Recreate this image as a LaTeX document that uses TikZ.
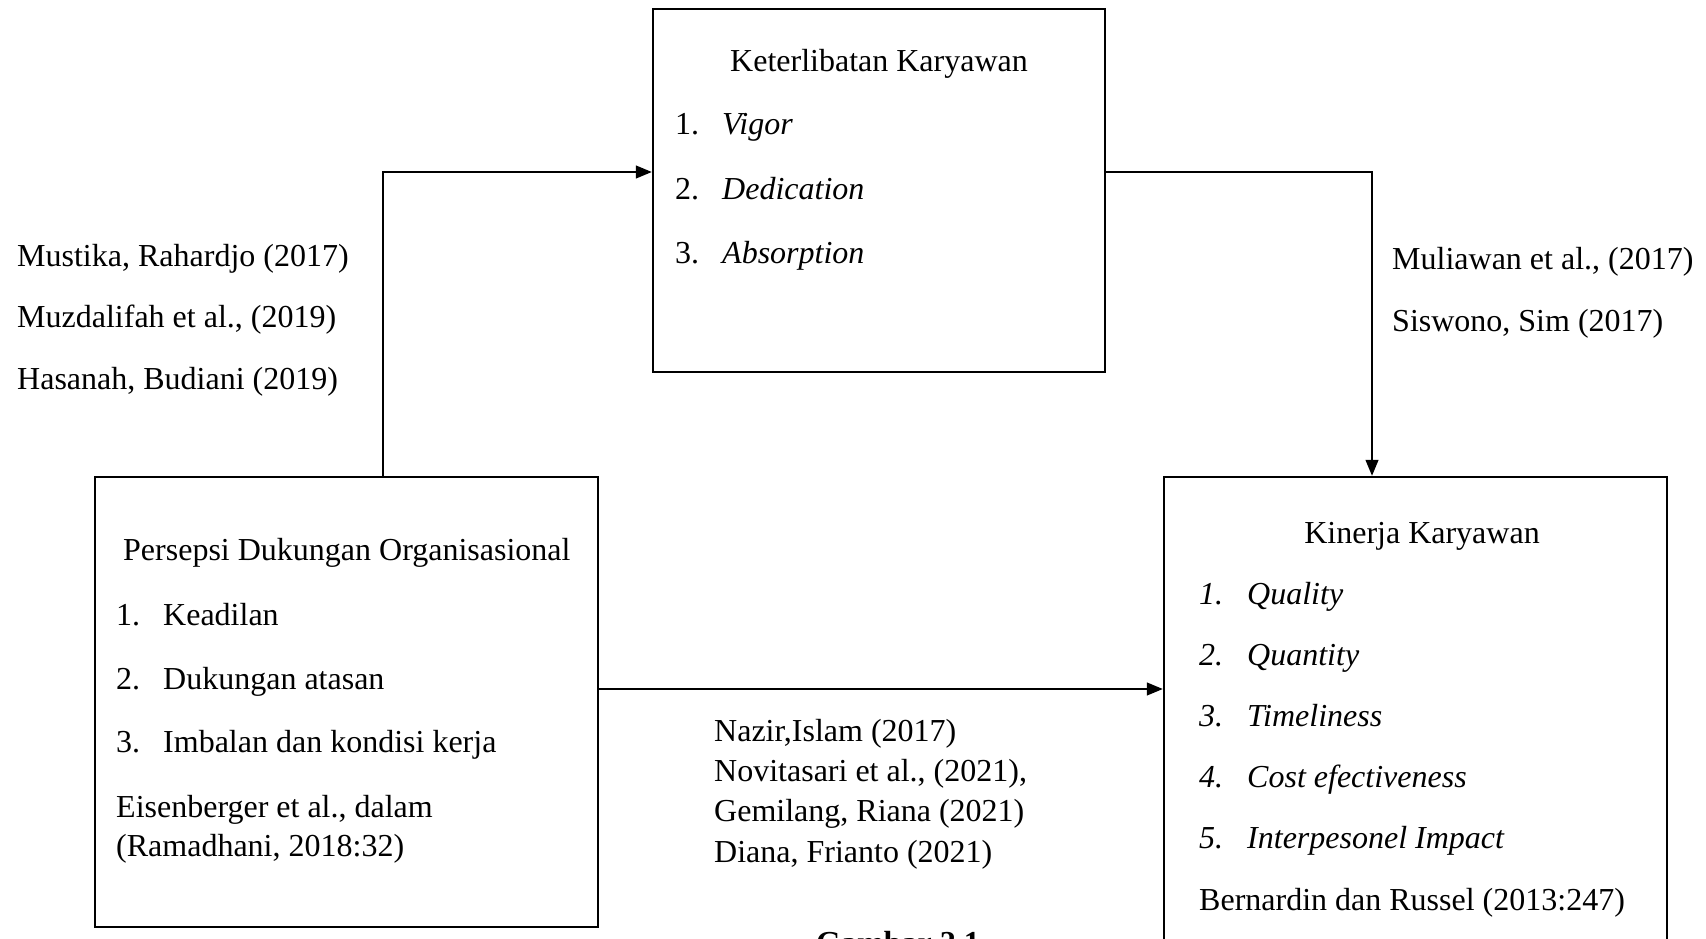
\documentclass[tikz,border=0pt]{standalone}
\usepackage{fontspec}
\setmainfont{Liberation Serif}
\usetikzlibrary{arrows.meta}
\begin{document}
\begin{tikzpicture}[x=1pt,y=-1pt,
  box/.style={draw,line width=2.5pt,inner sep=0pt},
  conn/.style={line width=1.3pt,-{Triangle[length=16pt,width=13pt]}},
  txt/.style={inner sep=0pt,anchor=base west,font=\fontsize{32}{38}\selectfont},
  ttl/.style={inner sep=0pt,anchor=base,font=\fontsize{32}{38}\selectfont}]
\useasboundingbox (0,0) rectangle (1706,939);
% boxes
\node[box,minimum width=452pt,minimum height=363pt] (ke) at (879,190.5) {};
\node[box,minimum width=503pt,minimum height=450pt] (pdo) at (346.5,702) {};
\node[box,minimum width=503pt,minimum height=523pt] (kk) at (1415.5,738.5) {};
% junction coordinates
\coordinate (j1) at (383,172);
\coordinate (j2) at (1372,172);
\coordinate (j3) at (0,689);
% connectors
\draw[conn] (pdo.north -| j1) |- (ke.west |- j1);
\draw[conn] (ke.east |- j2) -| (kk.north -| j2);
\draw[conn] (pdo.east |- j3) -- (kk.west |- j3);
% top box text
\node[ttl] (ket) at (879,72) {Keterlibatan Karyawan};
\node[txt] (k1n) at (675,135) {1.};
\node[txt] (k1) at (722,135) {\itshape Vigor};
\node[txt] (k2n) at (675,199) {2.};
\node[txt] (k2) at (722,199) {\itshape Dedication};
\node[txt] (k3n) at (675,263) {3.};
\node[txt] (k3) at (722,263) {\itshape Absorption};
% left references
\node[txt] (r1) at (17,266) {Mustika, Rahardjo (2017)};
\node[txt] (r2) at (17,327) {Muzdalifah et al., (2019)};
\node[txt] (r3) at (17,389) {Hasanah, Budiani (2019)};
% right references
\node[txt] (r4) at (1392,269) {Muliawan et al., (2017)};
\node[txt] (r5) at (1392,331) {Siswono, Sim (2017)};
% left box text
\node[txt] (pt) at (123,560) {Persepsi Dukungan Organisasional};
\node[txt] (p1n) at (116,625) {1.};
\node[txt] (p1) at (163,625) {Keadilan};
\node[txt] (p2n) at (116,689) {2.};
\node[txt] (p2) at (163,689) {Dukungan atasan};
\node[txt] (p3n) at (116,752) {3.};
\node[txt] (p3) at (163,752) {Imbalan dan kondisi kerja};
\node[txt] (ps1) at (116,817) {Eisenberger et al., dalam};
\node[txt] (ps2) at (116,856) {(Ramadhani, 2018:32)};
% middle references
\node[txt] (m1) at (714,741) {Nazir,Islam (2017)};
\node[txt] (m2) at (714,781) {Novitasari et al., (2021),};
\node[txt] (m3) at (714,821) {Gemilang, Riana (2021)};
\node[txt] (m4) at (714,862) {Diana, Frianto (2021)};
% right box text
\node[ttl] (kt) at (1422,543) {Kinerja Karyawan};
\node[txt] (q1n) at (1199,604) {\itshape 1.};
\node[txt] (q1) at (1247,604) {\itshape Quality};
\node[txt] (q2n) at (1199,665) {\itshape 2.};
\node[txt] (q2) at (1247,665) {\itshape Quantity};
\node[txt] (q3n) at (1199,726) {\itshape 3.};
\node[txt] (q3) at (1247,726) {\itshape Timeliness};
\node[txt] (q4n) at (1199,787) {\itshape 4.};
\node[txt] (q4) at (1247,787) {\itshape Cost efectiveness};
\node[txt] (q5n) at (1199,848) {\itshape 5.};
\node[txt] (q5) at (1247,848) {\itshape Interpesonel Impact};
\node[txt] (qs) at (1199,910) {Bernardin dan Russel (2013:247)};
% caption (cut off in the reference)
\node[ttl] (cap) at (898,953) {\bfseries Gambar 2.1};
\end{tikzpicture}
\end{document}
